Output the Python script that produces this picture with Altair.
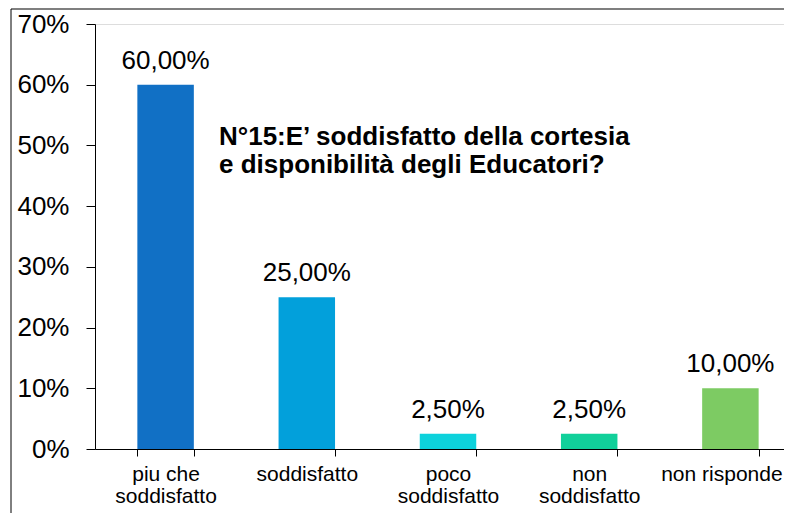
import altair as alt
import pandas as pd

categories = ["piu che\nsoddisfatto", "soddisfatto", "poco\nsoddisfatto", "non\nsoddisfatto", "non risponde"]
values = [0.60, 0.25, 0.025, 0.025, 0.10]
colors = ["#1170C5", "#02A0DB", "#0DD2DC", "#11D09A", "#7DCB63"]
title_lines = ["N°15:E’ soddisfatto della cortesia", "e disponibilità degli Educatori?"]
y_ticks = [0, 0.1, 0.2, 0.3, 0.4, 0.5, 0.6, 0.7]

FONT = "Liberation Sans"

df = pd.DataFrame({"cat": categories, "value": values})

x = alt.X(
    "cat:N",
    sort=categories,
    title=None,
    scale=alt.Scale(paddingInner=0.6, paddingOuter=0.3),
    axis=alt.Axis(
        labelAngle=0,
        labelExpr="split(datum.label, '\\n')",
        labelFont=FONT,
        labelFontSize=21,
        labelLineHeight=22,
        labelColor="#000000",
        labelPadding=7,
        labelBaseline="top",
        labelOffset={"condition": {"test": "datum.label == 'non risponde'", "value": -9}, "value": 0},
        tickBand="extent",
        tickSize=7,
        tickColor="#000000",
        domainColor="#000000",
        labelLimit=300,
    ),
)
y = alt.Y(
    "value:Q",
    title=None,
    scale=alt.Scale(domain=[0, 0.7], nice=False),
    axis=alt.Axis(
        values=y_ticks,
        format=".0%",
        grid=False,
        labelFont=FONT,
        labelFontSize=26,
        labelColor="#000000",
        labelPadding=17,
        tickSize=9,
        tickColor="#000000",
        domainColor="#000000",
    ),
)

bars = alt.Chart(df).mark_bar().encode(
    x=x,
    y=y,
    color=alt.Color("cat:N", sort=categories, scale=alt.Scale(domain=categories, range=colors), legend=None),
)

labels = alt.Chart(df).transform_calculate(
    label="replace(format(datum.value, '.2%'), '.', ',')"
).mark_text(font=FONT, fontSize=26, dy=-16, baseline="alphabetic", color="#000000").encode(
    x=alt.X("cat:N", sort=categories),
    y="value:Q",
    text="label:N",
)

one = pd.DataFrame({"k": [0]})
title = alt.Chart(one).mark_text(
    font=FONT, fontSize=26, fontWeight="bold", align="left", baseline="alphabetic",
    lineHeight=28, color="#000000"
).encode(
    x=alt.value(124), y=alt.value(121), text=alt.value(title_lines)
)

top_rule = alt.Chart(one).mark_rule(color="#7F7F7F", strokeWidth=2).encode(
    x=alt.value(-84), x2=alt.value(720), y=alt.value(-15)
)
left_rule = alt.Chart(one).mark_rule(color="#000000", strokeWidth=1).encode(
    x=alt.value(-84), y=alt.value(-15), y2=alt.value(500)
)

chart = alt.layer(bars, labels, title, top_rule, left_rule).properties(
    width=706,
    height=425,
    autosize=alt.AutoSizeParams(type="none"),
    padding={"left": 87, "top": 16, "right": -17, "bottom": 64},
).configure_view(stroke=None).configure(background="#ffffff")

chart.save("out.html", embed_options={"renderer": "svg", "actions": False})
